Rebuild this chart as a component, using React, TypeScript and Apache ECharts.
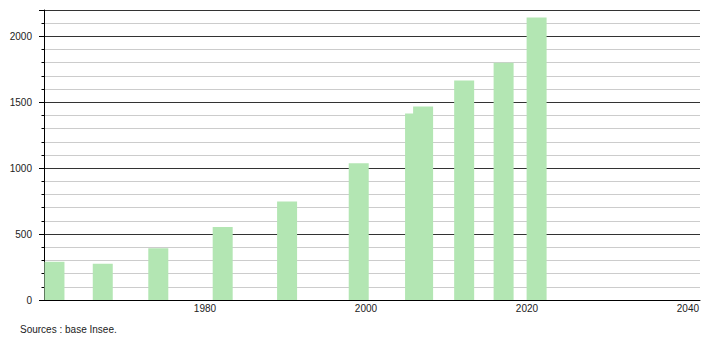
import React, { useEffect, useRef } from "react";
import * as echarts from "echarts";

// Bar positions (year, as placed on the time axis) and population values
const barYears = [1961.3, 1967.3, 1974.2, 1982.2, 1990.2, 1999.1, 2006.1, 2007.1, 2012.2, 2017.1, 2021.2];
const population = [290, 275, 393, 553, 748, 1037, 1414, 1468, 1665, 1800, 2144];
const xTickLabels = [1980, 2000, 2020, 2040];
const yTickLabels = [0, 500, 1000, 1500, 2000];
const sourceText = "Sources : base Insee.";

export default function App() {
  const ref = useRef<HTMLDivElement>(null);
  useEffect(() => {
    if (!ref.current) return;
    const chart = echarts.init(ref.current, null, { renderer: "svg" });
    const font = "'Liberation Sans', Arial, sans-serif";
    chart.setOption({
      animation: false,
      grid: { left: 44, right: 10, top: 10, bottom: 40, containLabel: false },
      xAxis: {
        type: "value",
        min: 1960,
        max: 2041.5,
        interval: 20,
        axisLine: { show: true, lineStyle: { color: "#000", width: 1 } },
        axisTick: { show: false },
        splitLine: { show: false },
        axisLabel: {
          margin: 3,
          fontFamily: font,
          fontSize: 10,
          color: "#222",
          showMinLabel: true,
          showMaxLabel: true,
          formatter: (v: number) => (xTickLabels.includes(v) ? String(v) : ""),
        },
      },
      yAxis: {
        type: "value",
        min: 0,
        max: 2200,
        interval: 500,
        axisLine: { show: true, lineStyle: { color: "#000", width: 1 } },
        axisTick: { show: true, length: 5, lineStyle: { color: "#000" } },
        minorTick: { show: true, splitNumber: 5, length: 2.5, lineStyle: { color: "#000" } },
        splitLine: { show: true, lineStyle: { color: "#333", width: 1 } },
        minorSplitLine: { show: true, lineStyle: { color: "#cccccc", width: 1 } },
        axisLabel: {
          margin: 12,
          fontFamily: font,
          fontSize: 10,
          color: "#222",
          formatter: (v: number) => (yTickLabels.includes(v) ? String(v) : ""),
        },
      },
      series: [
        {
          type: "bar",
          barWidth: 20,
          data: barYears.map((y, i) => [y, population[i]]),
          itemStyle: { color: "#b3e6b3" },
          emphasis: { disabled: true },
        },
      ],
      graphic: [
        {
          type: "text",
          left: 20,
          top: 324,
          style: { text: sourceText, fontFamily: font, fontSize: 10, fill: "#222" },
        },
      ],
    });
    return () => chart.dispose();
  }, []);
  return (
    <div
      ref={ref}
      style={{ position: "absolute", left: 0, top: 0, width: 710, height: 340, overflow: "hidden" }}
    />
  );
}
